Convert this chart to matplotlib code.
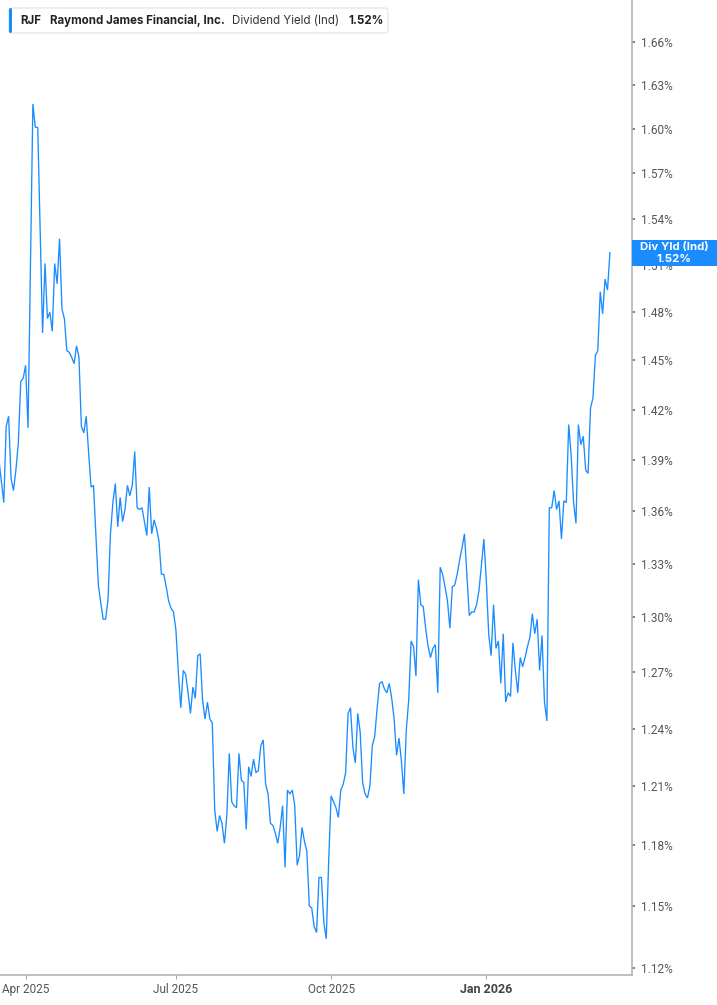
import numpy as np
import matplotlib
matplotlib.use("Agg")
import matplotlib.pyplot as plt
from matplotlib.patches import FancyBboxPatch, Rectangle
from matplotlib.transforms import IdentityTransform
from matplotlib.ticker import FixedLocator, NullLocator, NullFormatter

# trading sessions (NYSE holidays inside the window)
start_day = "2025-03-17"
end_day = "2026-03-19"
holidays = ["2025-04-18", "2025-05-26", "2025-06-19", "2025-07-04", "2025-09-01",
            "2025-11-27", "2025-12-25", "2026-01-01", "2026-01-19", "2026-02-16"]
tick_months = ["2025-04", "2025-07", "2025-10", "2026-01"]
tick_labels = ["Apr 2025", "Jul 2025", "Oct 2025", "Jan 2026"]

# dividend yield (%), by session number
sess = [0, 2, 3, 4, 5, 6, 7, 8, 9, 10, 11, 12, 13, 14, 15, 16, 18, 19, 20, 21,
        22, 23, 24, 25, 26, 27, 28, 29, 30, 31, 32, 33, 34, 35, 36, 37, 38, 39, 41, 42,
        43, 44, 45, 46, 47, 48, 49, 50, 51, 52, 53, 54, 55, 56, 57, 58, 59, 60, 61, 62,
        63, 64, 65, 66, 67, 68, 69, 70, 71, 72, 73, 74, 75, 76, 77, 78, 79, 80, 81, 82,
        83, 84, 85, 86, 87, 88, 89, 90, 91, 92, 93, 94, 95, 96, 97, 98, 99, 100, 101, 102,
        103, 104, 105, 106, 107, 108, 109, 110, 111, 112, 113, 114, 115, 116, 117, 118, 119, 120, 121, 122,
        123, 124, 125, 126, 127, 128, 129, 130, 131, 132, 133, 134, 135, 136, 137, 138, 139, 140, 141, 142,
        143, 144, 145, 146, 147, 148, 149, 150, 151, 152, 153, 154, 155, 156, 157, 158, 159, 160, 161, 162,
        163, 164, 165, 166, 167, 168, 169, 170, 171, 172, 173, 174, 175, 176, 177, 178, 179, 180, 181, 182,
        183, 184, 185, 186, 187, 188, 189, 190, 191, 192, 193, 194, 195, 196, 197, 198, 199, 200, 201, 202,
        203, 204, 205, 206, 207, 208, 209, 210, 211, 212, 213, 214, 215, 216, 217, 218, 219, 220, 221, 222,
        223, 224, 225, 226, 227, 228, 229, 230, 231, 232, 233, 234, 235, 236, 237, 238, 239, 240, 241, 242,
        243, 244, 245, 246, 247, 248, 249, 250, 251, 252]
yld = [1.390, 1.365, 1.410, 1.416, 1.379, 1.372, 1.384, 1.400, 1.437, 1.439,
       1.447, 1.409, 1.509, 1.617, 1.601, 1.601, 1.467, 1.511, 1.476, 1.480,
       1.468, 1.511, 1.498, 1.527, 1.482, 1.476, 1.456, 1.455, 1.452, 1.448,
       1.459, 1.452, 1.410, 1.406, 1.416, 1.394, 1.374, 1.375, 1.318, 1.308,
       1.299, 1.299, 1.310, 1.347, 1.365, 1.376, 1.351, 1.368, 1.354, 1.361,
       1.375, 1.369, 1.375, 1.395, 1.362, 1.361, 1.362, 1.354, 1.346, 1.374,
       1.347, 1.355, 1.350, 1.343, 1.324, 1.324, 1.317, 1.309, 1.305, 1.303,
       1.293, 1.270, 1.251, 1.271, 1.269, 1.259, 1.248, 1.262, 1.256, 1.279,
       1.280, 1.255, 1.245, 1.254, 1.245, 1.243, 1.198, 1.187, 1.195, 1.191,
       1.181, 1.195, 1.227, 1.202, 1.200, 1.199, 1.227, 1.213, 1.212, 1.188,
       1.220, 1.215, 1.224, 1.217, 1.218, 1.231, 1.234, 1.211, 1.206, 1.191,
       1.190, 1.186, 1.181, 1.189, 1.200, 1.169, 1.208, 1.206, 1.208, 1.200,
       1.170, 1.175, 1.189, 1.182, 1.177, 1.150, 1.149, 1.140, 1.137, 1.164,
       1.164, 1.142, 1.134, 1.172, 1.205, 1.202, 1.199, 1.194, 1.208, 1.211,
       1.217, 1.248, 1.251, 1.230, 1.222, 1.248, 1.238, 1.212, 1.206, 1.204,
       1.210, 1.231, 1.236, 1.251, 1.264, 1.265, 1.261, 1.259, 1.264, 1.256,
       1.245, 1.226, 1.235, 1.223, 1.206, 1.239, 1.255, 1.287, 1.284, 1.268,
       1.321, 1.307, 1.306, 1.294, 1.284, 1.278, 1.283, 1.285, 1.259, 1.328,
       1.324, 1.317, 1.309, 1.294, 1.317, 1.318, 1.324, 1.332, 1.339, 1.347,
       1.324, 1.301, 1.303, 1.303, 1.307, 1.315, 1.329, 1.344, 1.321, 1.291,
       1.279, 1.307, 1.283, 1.287, 1.264, 1.291, 1.254, 1.259, 1.257, 1.286,
       1.271, 1.259, 1.278, 1.273, 1.278, 1.284, 1.289, 1.302, 1.291, 1.299,
       1.271, 1.290, 1.254, 1.244, 1.362, 1.362, 1.372, 1.361, 1.366, 1.344,
       1.366, 1.365, 1.411, 1.393, 1.365, 1.353, 1.411, 1.399, 1.404, 1.384,
       1.382, 1.421, 1.427, 1.453, 1.456, 1.493, 1.479, 1.501, 1.494, 1.518]
y_ticks = [1.12, 1.15, 1.18, 1.21, 1.24, 1.27, 1.30, 1.33, 1.36, 1.39,
           1.42, 1.45, 1.48, 1.51, 1.54, 1.57, 1.60, 1.63, 1.66]

ticker_sym = "RJF"
company = "Raymond James Financial, Inc."
metric = "Dividend Yield (Ind)"
last_txt = "%.2f%%" % yld[-1]

BLUE = "#1a8cff"
W, H = 717, 1005

days = np.arange(start_day, end_day, dtype="datetime64[D]")
sessions = days[np.is_busday(days, holidays=holidays)]
months = sessions.astype("datetime64[M]").astype(str)
tick_pos = [int(np.argmax(months == m)) for m in tick_months]

plt.rcParams["font.family"] = ["Roboto", "DejaVu Sans"]
fig = plt.figure(figsize=(W / 100, H / 100), dpi=100)
ax = fig.add_axes([0, 30 / H, 631.5 / W, 1 - 30 / H])

ax.plot(sess, yld, color=BLUE, lw=0.95, solid_joinstyle="miter")

ax.set_yscale("log")
ax.set_ylim(1.1167, 1.690)
ax.set_xlim(0.44, 260.9)
ax.yaxis.set_major_locator(FixedLocator(y_ticks))
ax.yaxis.set_minor_locator(NullLocator())
ax.yaxis.set_minor_formatter(NullFormatter())
ax.set_yticklabels(["%.2f%%" % v for v in y_ticks])
ax.yaxis.tick_right()
ax.tick_params(axis="y", length=2.2, width=1.3, color="#777777", pad=5,
               labelsize=8.5, labelcolor="#555555")

ax.set_xticks(tick_pos)
ax.set_xticklabels(tick_labels)
ax.tick_params(axis="x", length=3, width=0.8, color="#aaaaaa", pad=3,
               labelsize=8.5, labelcolor="#555555")
jan = ax.get_xticklabels()[-1]
jan.set_fontweight("bold")
jan.set_color("#444444")
jan.set_fontsize(9)

for s in ["top", "left"]:
    ax.spines[s].set_visible(False)
for s in ["right", "bottom"]:
    ax.spines[s].set_color("#b5b5b5")
    ax.spines[s].set_linewidth(1.2)

# header legend
pix = IdentityTransform()
box = FancyBboxPatch((9, H - 33), 379, 25, boxstyle="round,pad=0,rounding_size=3",
                     transform=pix, fc="white", ec="#e2e2e2", lw=0.8, zorder=5)
fig.patches.append(box)
bar = FancyBboxPatch((9, H - 33), 3, 25, boxstyle="round,pad=0,rounding_size=1.5",
                     transform=pix, fc=BLUE, ec="none", zorder=6)
fig.patches.append(bar)
hdr = dict(transform=pix, va="center", fontsize=8.3,
           family=["Inter", "DejaVu Sans"], zorder=7)
fig.text(20, H - 21, ticker_sym, fontweight="bold", color="#222222", **hdr)
fig.text(50, H - 21, company, fontweight="bold", color="#222222", **hdr)
fig.text(232, H - 21, metric, color="#333333", **hdr)
fig.text(348, H - 21, last_txt, fontweight="bold", color="#222222", **hdr)

# last value tag on the axis
tag = Rectangle((632, H - 266), 85, 26, transform=pix, fc=BLUE, ec="none", zorder=5)
fig.patches.append(tag)
tagtxt = dict(transform=pix, ha="center", va="center", fontsize=8.2, color="white",
              fontweight="bold", family=["Inter", "DejaVu Sans"], zorder=6)
fig.text(674, H - 247, "Div Yld (Ind)", **tagtxt)
fig.text(674, H - 259, last_txt, **tagtxt)

fig.savefig("out.png", dpi=100)
